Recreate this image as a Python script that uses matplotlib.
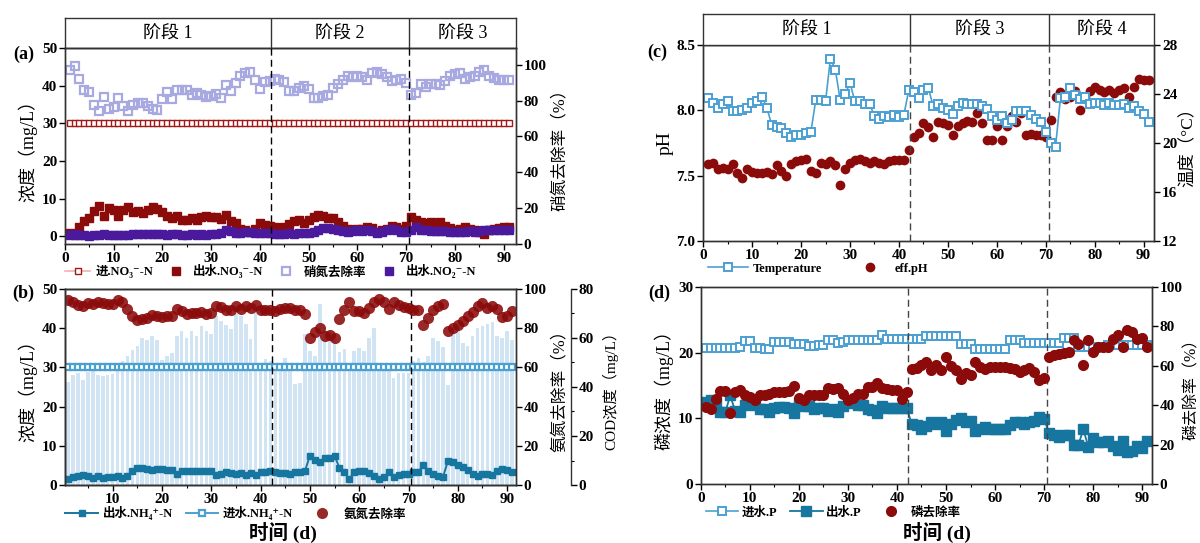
import numpy as np
import matplotlib
matplotlib.use('Agg')
import matplotlib.pyplot as plt
from matplotlib.ticker import MultipleLocator

plt.rcParams['font.family'] = ['Liberation Serif', 'DejaVu Serif', 'Noto Sans CJK SC']
plt.rcParams['font.weight'] = 'bold'
plt.rcParams['axes.unicode_minus'] = False

# ---------------- data ----------------
days = np.arange(1, 92)
stage_edges = [42.3, 70.6]

no3_in = [30.0] * 91
no3_out = [0.9, 0.4, 2.4, 4.2, 4.9, 6.8, 8.0, 5.5, 7.5, 7.1,
           5.5, 7.1, 7.8, 6.5, 6.8, 6.2, 7.1, 7.8, 7.3, 6.4,
           5.5, 4.9, 5.5, 4.4, 4.4, 4.9, 4.4, 5.1, 5.5, 5.1,
           5.3, 4.7, 5.8, 4.2, 3.7, 1.9, 1.6, 1.3, 1.9, 3.7,
           3.0, 2.7, 2.5, 2.1, 2.5, 3.4, 4.2, 4.4, 3.7, 4.4,
           5.3, 5.8, 5.5, 4.9, 4.9, 3.9, 2.7, 2.1, 1.8, 2.1,
           1.9, 2.5, 2.2, 1.3, 1.6, 2.1, 2.7, 2.5, 1.9, 2.8,
           5.1, 4.4, 3.9, 3.5, 3.9, 3.7, 3.9, 2.8, 2.2, 1.8,
           1.9, 2.5, 2.1, 1.8, 1.1, 0.7, 1.8, 2.1, 2.3, 2.5, 2.5]
no2_out = [0.5, 0.6, 0.3, 0.4, 0.2, 0.3, 0.5, 0.6, 0.4, 0.5,
           0.3, 0.4, 0.5, 0.6, 0.7, 0.6, 0.6, 0.7, 0.6, 0.6,
           0.5, 0.7, 0.6, 0.5, 0.4, 0.6, 0.5, 0.6, 0.5, 0.6,
           0.7, 0.8, 1.7, 1.5, 1.0, 0.9, 1.1, 1.2, 0.8, 0.9,
           1.0, 0.8, 0.7, 0.6, 0.7, 0.8, 0.7, 0.8, 0.9, 1.0,
           1.2, 1.8, 2.2, 2.3, 2.0, 1.7, 1.5, 1.3, 1.5, 1.6,
           1.5, 1.7, 1.4, 1.0, 1.2, 1.6, 2.0, 1.7, 1.3, 1.2,
           1.6, 2.6, 1.8, 1.6, 1.4, 1.5, 1.5, 1.4, 1.2, 1.1,
           1.2, 1.3, 1.4, 1.3, 1.5, 1.6, 1.8, 1.7, 1.6, 1.8, 1.7]
no3_removal = [96.8, 99.4, 92.2, 85.8, 84.5, 77.7, 74.3, 81.9, 75.4, 76.4,
               81.2, 77.1, 74.3, 77.7, 78.4, 78.6, 76.7, 75.4, 75.0, 80.8,
               84.7, 81.0, 85.7, 85.7, 85.7, 83.1, 84.4, 83.2, 81.9, 82.7,
               83.8, 81.2, 88.5, 85.5, 89.8, 93.5, 95.3, 96.1, 91.2, 86.4,
               90.1, 91.1, 92.2, 91.2, 90.5, 85.1, 85.1, 87.0, 88.3, 86.4,
               81.4, 81.4, 82.3, 83.2, 86.8, 89.4, 91.2, 93.5, 93.1, 93.9,
               93.1, 91.6, 95.3, 95.7, 95.0, 92.9, 91.1, 91.6, 92.0, 89.8,
               83.2, 84.2, 89.0, 87.5, 89.4, 89.0, 88.6, 90.7, 93.5, 95.0,
               95.3, 92.0, 93.1, 93.9, 95.7, 97.2, 93.9, 92.6, 91.6, 91.6, 91.2]

nh4_in = [30.0] * 91
nh4_out = [1.5, 2.0, 2.4, 2.5, 2.2, 1.9, 2.2, 1.9, 2.1, 2.1,
           2.2, 1.9, 2.4, 3.5, 4.3, 4.3, 4.2, 3.9, 4.1, 4.2,
           3.9, 3.9, 2.9, 3.5, 3.7, 3.7, 3.7, 3.5, 3.7, 3.5,
           2.6, 2.9, 3.2, 3.1, 2.8, 3.1, 2.6, 3.1, 2.5, 3.2,
           3.3, 3.5, 3.2, 3.1, 3.1, 2.9, 3.2, 3.2, 3.5, 7.5,
           6.5, 5.9, 6.9, 6.9, 7.5, 4.3, 3.2, 1.5, 3.4, 3.5,
           3.7, 3.1, 2.2, 1.5, 2.0, 3.2, 2.0, 2.6, 2.9, 2.9,
           3.2, 3.2, 5.2, 3.7, 2.9, 2.4, 2.0, 6.2, 5.8, 5.2,
           4.6, 3.9, 2.9, 2.2, 2.9, 2.9, 2.6, 3.5, 4.1, 3.9, 3.2]
nh4_removal = [94.6, 93.2, 92.0, 91.2, 92.9, 92.3, 93.4, 92.9, 92.5, 92.3,
               94.2, 93.2, 89.8, 86.4, 84.4, 84.9, 85.2, 86.9, 86.1, 85.7,
               86.4, 86.4, 89.8, 88.9, 87.4, 87.8, 87.8, 88.3, 87.4, 87.8,
               91.5, 90.8, 89.5, 89.5, 91.2, 89.8, 91.2, 90.3, 92.0, 89.5,
               89.1, 89.1, 88.6, 89.8, 90.1, 90.3, 89.5, 89.1, 87.2, 75.0,
               78.1, 80.1, 76.2, 76.7, 75.0, 84.7, 89.5, 93.2, 88.6, 88.6,
               87.8, 90.3, 93.4, 95.1, 93.4, 89.8, 93.2, 91.7, 90.8, 90.3,
               89.5, 89.5, 81.8, 85.2, 89.5, 91.2, 92.3, 78.6, 80.1, 81.8,
               83.8, 86.1, 88.3, 91.2, 92.9, 90.3, 91.2, 89.8, 85.5, 86.4, 88.9]
cod = [41.9, 45.0, 45.8, 43.0, 46.2, 47.4, 45.0, 44.3, 45.0, 45.4,
       49.1, 50.7, 52.8, 55.0, 56.8, 60.0, 59.0, 61.0, 59.0, 50.9,
       52.5, 53.9, 61.0, 63.0, 59.8, 63.0, 61.0, 64.8, 63.0, 61.8,
       68.8, 67.0, 65.1, 63.8, 69.6, 68.8, 65.9, 59.5, 71.8, 49.6,
       51.4, 50.6, 49.0, 49.0, 51.7, 49.0, 41.1, 41.8, 61.6, 54.7,
       52.6, 73.8, 64.6, 62.6, 59.8, 54.4, 55.5, 47.8, 54.7, 55.8,
       54.7, 59.8, 64.0, 49.6, 49.6, 47.7, 43.8, 45.9, 45.9, 45.9,
       50.6, 51.7, 50.4, 52.8, 59.8, 58.7, 56.5, 40.8, 63.7, 64.5,
       57.8, 56.6, 61.0, 64.0, 64.8, 65.9, 66.4, 61.0, 60.0, 63.0, 59.0]

temperature = [23.7, 23.3, 22.9, 23.2, 23.4, 22.6, 22.6, 22.7, 22.9, 23.3,
               23.4, 23.8, 22.9, 21.5, 21.3, 21.2, 20.8, 20.5, 20.7, 20.7,
               20.8, 20.9, 23.5, 23.5, 23.4, 26.9, 26.0, 23.5, 24.0, 24.9,
               23.4, 23.4, 23.2, 23.2, 22.2, 22.0, 22.2, 22.1, 22.3, 22.1,
               22.3, 24.3, 24.2, 23.7, 24.3, 24.5, 23.0, 23.2, 22.9, 22.7,
               22.4, 23.0, 23.3, 23.2, 23.2, 23.2, 23.0, 22.8, 22.2, 21.9,
               22.2, 21.6, 21.9, 22.6, 22.6, 22.6, 22.3, 22.0, 21.7, 20.9,
               20.0, 19.7, 23.7, 23.8, 24.5, 23.9, 23.6, 23.8, 23.2, 23.3,
               23.3, 23.1, 23.3, 23.1, 23.1, 23.2, 22.9, 23.0, 22.6, 22.4, 21.7]
eff_ph = [7.59, 7.60, 7.55, 7.56, 7.55, 7.59, 7.52, 7.48, 7.55, 7.53,
          7.52, 7.52, 7.53, 7.51, 7.58, 7.54, 7.50, 7.59, 7.61, 7.62,
          7.63, 7.54, 7.52, 7.60, 7.59, 7.61, 7.58, 7.43, 7.55, 7.60,
          7.62, 7.63, 7.61, 7.60, 7.61, 7.60, 7.59, 7.61, 7.62, 7.62,
          7.62, 7.70, 7.80, 7.83, 7.90, 7.87, 7.80, 7.91, 7.90, 7.89,
          7.81, 7.88, 7.90, 7.92, 7.91, 7.98, 7.90, 7.77, 7.77, 7.88,
          7.77, 7.88, 7.96, 7.91, 7.98, 7.81, 7.82, 7.81, 7.81, 7.80,
          7.93, 8.10, 8.14, 8.09, 8.10, 8.15, 8.00, 8.10, 8.15, 8.18,
          8.16, 8.14, 8.16, 8.13, 8.16, 8.17, 8.10, 8.18, 8.24, 8.23, 8.23]

p_in = [20.7, 20.7, 20.7, 20.7, 20.7, 20.7, 20.7, 20.8, 21.7, 21.7,
        20.7, 20.7, 20.5, 20.5, 21.6, 21.6, 21.6, 21.6, 21.3, 21.3,
        21.3, 21.0, 21.0, 21.1, 21.1, 21.9, 21.9, 21.5, 21.6, 21.9,
        21.9, 21.9, 21.9, 21.9, 21.9, 21.9, 22.7, 22.0, 22.0, 22.0,
        22.0, 22.0, 22.0, 22.0, 22.0, 22.5, 22.5, 22.5, 22.5, 22.5,
        22.5, 22.5, 21.3, 21.3, 21.3, 20.6, 20.6, 20.6, 20.6, 20.6,
        20.6, 20.6, 21.9, 21.9, 21.9, 21.5, 21.5, 21.5, 21.5, 21.5,
        21.5, 21.5, 21.5, 22.2, 22.2, 22.2, 20.9, 20.9, 20.9, 20.9,
        20.9, 20.9, 21.1, 21.1, 21.1, 21.1, 21.1, 21.1, 21.1, 21.1, 21.1]
p_out = [12.5, 12.8, 12.5, 11.0, 10.9, 13.5, 11.1, 10.9, 12.0, 12.1,
         12.0, 11.4, 11.4, 11.0, 11.5, 11.7, 11.7, 11.6, 10.8, 12.3,
         11.9, 11.8, 11.4, 11.6, 11.6, 11.1, 11.4, 11.0, 11.9, 12.5,
         12.3, 12.0, 12.0, 11.4, 11.3, 10.8, 11.8, 11.6, 11.5, 11.6,
         11.6, 11.5, 9.2, 9.0, 8.4, 8.9, 9.5, 9.1, 9.5, 8.0,
         9.2, 9.7, 10.1, 9.5, 9.6, 8.0, 8.4, 8.6, 8.4, 8.4,
         8.4, 8.4, 9.0, 9.4, 9.4, 9.1, 9.4, 9.6, 10.2, 9.9,
         7.7, 7.4, 7.2, 7.5, 7.4, 6.0, 6.0, 8.3, 5.7, 7.0,
         6.4, 6.4, 6.5, 5.8, 5.2, 6.5, 4.8, 5.0, 5.8, 5.5, 6.5]
p_removal = [38.9, 38.0, 43.1, 47.1, 47.1, 35.8, 46.8, 47.6, 45.1, 44.3,
             42.6, 45.1, 45.1, 45.9, 46.5, 46.8, 46.8, 47.1, 49.7, 43.4,
             42.6, 45.1, 45.1, 45.1, 45.1, 48.8, 48.1, 48.5, 45.9, 42.6,
             43.4, 45.4, 45.4, 49.3, 49.3, 51.0, 48.8, 48.1, 47.6, 47.6,
             43.1, 46.8, 58.3, 59.0, 60.6, 61.7, 57.8, 60.6, 57.8, 64.5,
             60.0, 57.8, 53.5, 56.1, 55.2, 61.7, 59.5, 58.3, 59.5, 59.5,
             59.5, 59.5, 58.6, 58.3, 56.6, 57.8, 59.0, 56.6, 52.7, 53.9,
             64.5, 65.4, 65.7, 66.2, 67.1, 73.0, 70.8, 60.2, 72.8, 66.8,
             69.5, 69.5, 69.5, 73.3, 75.8, 69.5, 78.0, 77.0, 73.3, 74.1, 69.5]

stages_ac = ['阶段 1', '阶段 2', '阶段 3']
stages_cd = ['阶段 1', '阶段 3', '阶段 4']

# colours
dark_red = '#8B0A0A'
lavender = '#A9A9E2'
purple = '#4B1A9C'
teal = '#17769F'
light_blue = '#4BA0D2'
bar_blue = '#D0E4F3'
spine_c = '#333333'

TICK_FS = 11
LEG_FS = 9


def style(ax):
    ax.tick_params(axis='both', which='major', labelsize=TICK_FS, direction='out',
                   length=4, width=1, pad=1.5)
    ax.tick_params(axis='both', which='minor', direction='out', length=2.5, width=0.8)
    for s in ax.spines.values():
        s.set_linewidth(1.0)
        s.set_color(spine_c)


def dividers(ax, col='k'):
    for e in stage_edges:
        ax.axvline(e, color=col, ls=(0, (5, 3)), lw=1.0, zorder=5)


def stage_box(rect, xlim, names):
    bx = fig.add_axes(rect)
    bx.set_xlim(xlim)
    bx.set_ylim(0, 1)
    bx.set_xticks([])
    bx.set_yticks([])
    for s in bx.spines.values():
        s.set_linewidth(1.0)
        s.set_color(spine_c)
    edges = [xlim[0]] + stage_edges + [xlim[1]]
    for e in stage_edges:
        bx.axvline(e, color=spine_c, lw=1.0)
    for i, n in enumerate(names):
        bx.text((edges[i] + edges[i + 1]) / 2, 0.47, n, ha='center', va='center',
                fontsize=13, fontweight='normal')


fig = plt.figure(figsize=(12, 5.43), dpi=100)

# ---------------- (a) ----------------
xa = (0, 92.5)
ax = fig.add_axes([0.054, 0.5506, 0.376, 0.361])
ax2 = ax.twinx()
ax.set_zorder(2)
ax2.set_zorder(1)
ax.patch.set_visible(False)
h1, = ax.plot(days, no3_in, color='#F2AFAF', lw=1.2, marker='s', ms=4.3, mfc='white',
              mec='#A01818', mew=1.0, label='进.NO₃⁻-N')
h2, = ax.plot(days, no3_out, ls='none', marker='s', ms=6, color=dark_red,
              label='出水.NO₃⁻-N')
h3, = ax2.plot(days, no3_removal, ls='none', marker='s', ms=6.2, mfc='none',
               mec=lavender, mew=1.6, label='硝氮去除率')
h4, = ax.plot(days, no2_out, ls='none', marker='s', ms=6, color=purple,
              label='出水.NO₂⁻-N')
dividers(ax)
ax.set_xlim(xa)
ax.set_ylim(-2, 50)
ax2.set_ylim(0, 109.3)
ax.set_xticks(range(0, 91, 10))
ax.xaxis.set_minor_locator(MultipleLocator(5))
ax.set_yticks(range(0, 51, 10))
ax2.set_yticks(range(0, 101, 20))
style(ax)
style(ax2)
ax.set_ylabel('浓度（mg/L）', fontsize=13, labelpad=3)
ax2.set_ylabel('硝氮去除率（%）', fontsize=12, fontweight='normal', labelpad=4)
ax.legend([h1, h2, h3, h4], [h.get_label() for h in [h1, h2, h3, h4]],
          loc='center left', bbox_to_anchor=(-0.01, -0.14), ncol=4, frameon=False,
          fontsize=LEG_FS, handlelength=2.0, columnspacing=0.8, handletextpad=0.4,
          borderaxespad=0)
stage_box([0.054, 0.9116, 0.376, 0.0552], xa, stages_ac)

# ---------------- (b) ----------------
xb = (0.3, 91.8)
bx = fig.add_axes([0.054, 0.1068, 0.376, 0.361])
bx_r = bx.twinx()
bx_c = bx.twinx()
bx_c.spines['right'].set_position(('axes', 1.122))
bx_c.set_zorder(0)
bx.set_zorder(1)
bx_r.set_zorder(2)
bx.patch.set_visible(False)
bx_r.patch.set_visible(False)
bx_c.bar(days, cod, width=0.72, color=bar_blue, edgecolor='none')
g1, = bx.plot(days, nh4_out, color=teal, lw=1.4, marker='s', ms=5, label='出水.NH₄⁺-N')
g2, = bx.plot(days, nh4_in, color=light_blue, lw=1.4, marker='s', ms=5, mfc='white',
              mec=light_blue, mew=1.6, label='进水.NH₄⁺-N')
g3, = bx_r.plot(days, nh4_removal, ls='none', marker='o', ms=8, color=dark_red,
                alpha=0.88, mew=0, label='氨氮去除率')
dividers(bx)
bx.set_xlim(xb)
bx.set_ylim(0, 50)
bx_r.set_ylim(0, 100)
bx_c.set_ylim(0, 80)
bx.set_xticks(range(10, 91, 10))
bx.xaxis.set_minor_locator(MultipleLocator(5))
bx.set_yticks(range(0, 51, 10))
bx_r.set_yticks(range(0, 101, 20))
bx_c.set_yticks(range(0, 81, 20))
bx_c.yaxis.set_minor_locator(MultipleLocator(10))
style(bx)
style(bx_r)
style(bx_c)
bx.set_ylabel('浓度（mg/L）', fontsize=13, labelpad=3)
bx_r.set_ylabel('氨氮去除率（%）', fontsize=12, fontweight='normal', labelpad=4)
bx_c.set_ylabel('COD浓度（mg/L）', fontsize=11, labelpad=6)
bx.legend([g1, g2, g3], [g.get_label() for g in [g1, g2, g3]],
          loc='center left', bbox_to_anchor=(-0.01, -0.145), ncol=3, frameon=False,
          fontsize=LEG_FS, handlelength=2.6, columnspacing=1.0, handletextpad=0.4,
          borderaxespad=0)
fig.text(0.236, 0.02, '时间 (d)', ha='center', va='center', fontsize=14)

# ---------------- (c) ----------------
xc = (0, 92.2)
cx = fig.add_axes([0.586, 0.556, 0.376, 0.361])
cx_t = cx.twinx()
k2, = cx.plot(days, eff_ph, ls='none', marker='o', ms=7, color=dark_red, mew=0,
              label='eff.pH')
k1, = cx_t.plot(days, temperature, color=light_blue, lw=1.2, marker='s', ms=5.2,
                mfc='white', mec=light_blue, mew=1.4, label='Temperature')
dividers(cx, '#444444')
cx.set_xlim(xc)
cx.set_ylim(7.0, 8.5)
cx_t.set_ylim(12, 28)
cx.set_xticks(range(0, 91, 10))
cx.xaxis.set_minor_locator(MultipleLocator(5))
cx.set_yticks([7.0, 7.5, 8.0, 8.5])
cx.yaxis.set_major_formatter(matplotlib.ticker.FormatStrFormatter('%.1f'))
cx_t.set_yticks(range(12, 29, 4))
style(cx)
style(cx_t)
cx.set_ylabel('pH', fontsize=14, labelpad=2)
cx_t.set_ylabel('温度（°C）', fontsize=12.5, labelpad=2)
cx.legend([k1, k2], ['Temperature', 'eff.pH'], loc='center left',
          bbox_to_anchor=(0.0, -0.14), ncol=2, frameon=False, fontsize=LEG_FS,
          handlelength=3.2, columnspacing=2.2, handletextpad=0.4, borderaxespad=0)
stage_box([0.586, 0.917, 0.376, 0.057], xc, stages_cd)

# ---------------- (d) ----------------
xd = (0, 92.0)
dx = fig.add_axes([0.584, 0.1087, 0.376, 0.363])
dx_r = dx.twinx()
m1, = dx.plot(days, p_in, color=light_blue, lw=1.2, marker='s', ms=5.2, mfc='white',
              mec=light_blue, mew=1.4, label='进水.P')
m2, = dx.plot(days, p_out, color=teal, lw=1.3, marker='s', ms=6.5, label='出水.P')
m3, = dx_r.plot(days, p_removal, ls='none', marker='o', ms=8, color=dark_red, mew=0,
                label='磷去除率')
dividers(dx, '#444444')
dx.set_xlim(xd)
dx.set_ylim(0, 30)
dx_r.set_ylim(0, 100)
dx.set_xticks(range(0, 91, 10))
dx.xaxis.set_minor_locator(MultipleLocator(5))
dx.set_yticks(range(0, 31, 10))
dx_r.set_yticks(range(0, 101, 20))
style(dx)
style(dx_r)
dx.set_ylabel('磷浓度（mg/L）', fontsize=13, labelpad=3)
dx_r.set_ylabel('磷去除率（%）', fontsize=11.5, labelpad=1)
dx.legend([m1, m2, m3], ['进水.P', '出水.P', '磷去除率'], loc='center left',
          bbox_to_anchor=(0.0, -0.145), ncol=3, frameon=False, fontsize=LEG_FS,
          handlelength=2.6, columnspacing=1.0, handletextpad=0.3, borderaxespad=0)
fig.text(0.781, 0.02, '时间 (d)', ha='center', va='center', fontsize=14)

# panel letters
fig.text(0.020, 0.899, '(a)', fontsize=13, ha='center', va='center')
fig.text(0.019, 0.460, '(b)', fontsize=13, ha='center', va='center')
fig.text(0.548, 0.904, '(c)', fontsize=13, ha='center', va='center')
fig.text(0.549, 0.460, '(d)', fontsize=13, ha='center', va='center')

plt.savefig('out.png', dpi=100)
